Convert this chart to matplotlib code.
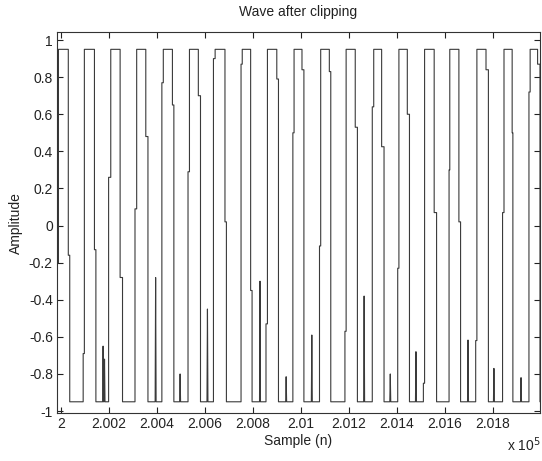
import numpy as np
import matplotlib
matplotlib.use("Agg")
import matplotlib.pyplot as plt

plt.rcParams['font.family'] = ['Liberation Sans', 'DejaVu Sans']
plt.rcParams['axes.unicode_minus'] = False

# clipping levels of the wave
high_level = 0.95
low_level = -0.95

# edges of each pulse, in samples
rise_start = [199983, 200092, 200198, 200308, 200420, 200529, 200635, 200750, 200854, 200966,
              201077, 201183, 201297, 201403, 201510, 201617, 201728, 201840, 201950]
rise_kink = [-0.20, -0.69, 0.26, 0.09, 0.77, 0.29, 0.90, 0.87, -0.53, 0.50,
             -0.11, -0.57, 0.64, -0.23, -0.85, 0.30, -0.62, 0.07, 0.72]
rise_end = [199989, 200097, 200207, 200315, 200426, 200535, 200642, 200755, 200860, 200971,
            201082, 201188, 201303, 201408, 201515, 201620, 201733, 201846, 201955]
fall_start = [200030, 200139, 200246, 200353, 200464, 200572, 200683, 200790, 200899, 201004,
              201118, 201226, 201336, 201443, 201555, 201658, 201771, 201880, 201986]
fall_kink = [-0.16, -0.13, -0.28, 0.48, 0.65, 0.70, 0.02, -0.35, 0.79, 0.84,
             0.83, 0.53, 0.425, 0.60, 0.07, 0.02, 0.84, 0.50, 0.87]
fall_end = [200036, 200145, 200256, 200362, 200470, 200581, 200689, 200796, 200906, 201012,
            201124, 201235, 201346, 201452, 201565, 201665, 201781, 201883, 201996]

# short spikes inside the low parts
spike_n = [200175, 200181, 200394, 200496, 200610, 200829, 200938, 201045, 201263,
           201372, 201479, 201696, 201804, 201917]
spike_peak = [-0.65, -0.72, -0.28, -0.80, -0.45, -0.30, -0.815, -0.59, -0.38,
              -0.80, -0.68, -0.617, -0.77, -0.82]
spike_half = 2

# build the polyline
xs, ys = [], []
for i in range(len(rise_start)):
    xs += [rise_start[i], rise_start[i], rise_end[i], rise_end[i],
           fall_start[i], fall_start[i], fall_end[i], fall_end[i]]
    ys += [low_level, rise_kink[i], rise_kink[i], high_level,
           high_level, fall_kink[i], fall_kink[i], low_level]
    nxt = rise_start[i + 1] if i + 1 < len(rise_start) else 202100
    for sn, sp in zip(spike_n, spike_peak):
        if fall_end[i] < sn < nxt:
            xs += [sn - spike_half, sn, sn + spike_half]
            ys += [low_level, sp, low_level]
xs.append(202100)
ys.append(low_level)

fig = plt.figure(figsize=(5.42, 4.61), dpi=100)
ax = fig.add_axes([0.1052, 0.1035, 0.8902, 0.8265])
ax.plot(xs, ys, color='#3a3a3a', linewidth=0.8)

ax.set_xlim(199983, 201994)
ax.set_ylim(-1.012, 1.042)

xt = np.arange(200000, 201900, 200)
ax.set_xticks(xt)
ax.set_xticklabels([f"{v / 1e5:g}" for v in xt])
yt = np.round(np.arange(-1, 1.01, 0.2), 1) + 0.0
ax.set_yticks(yt)
ax.set_yticklabels(["0" if abs(v) < 1e-9 else f"{v:g}" for v in yt])

ax.tick_params(direction='in', length=4, width=0.8, top=True, right=True,
               labelsize=10, colors='#222222', pad=3)
for s in ax.spines.values():
    s.set_linewidth(0.8)
    s.set_color('#333333')

ax.set_title('Wave after clipping', fontsize=10, color='#222222', pad=12)
ax.set_xlabel('Sample (n)', fontsize=10, color='#222222', labelpad=2)
ax.set_ylabel('Amplitude', fontsize=10, color='#222222', labelpad=4)
fig.text(0.935, 0.022, r'x 10$^{5}$', fontsize=10, color='#222222')

fig.savefig('out.png', dpi=100)
